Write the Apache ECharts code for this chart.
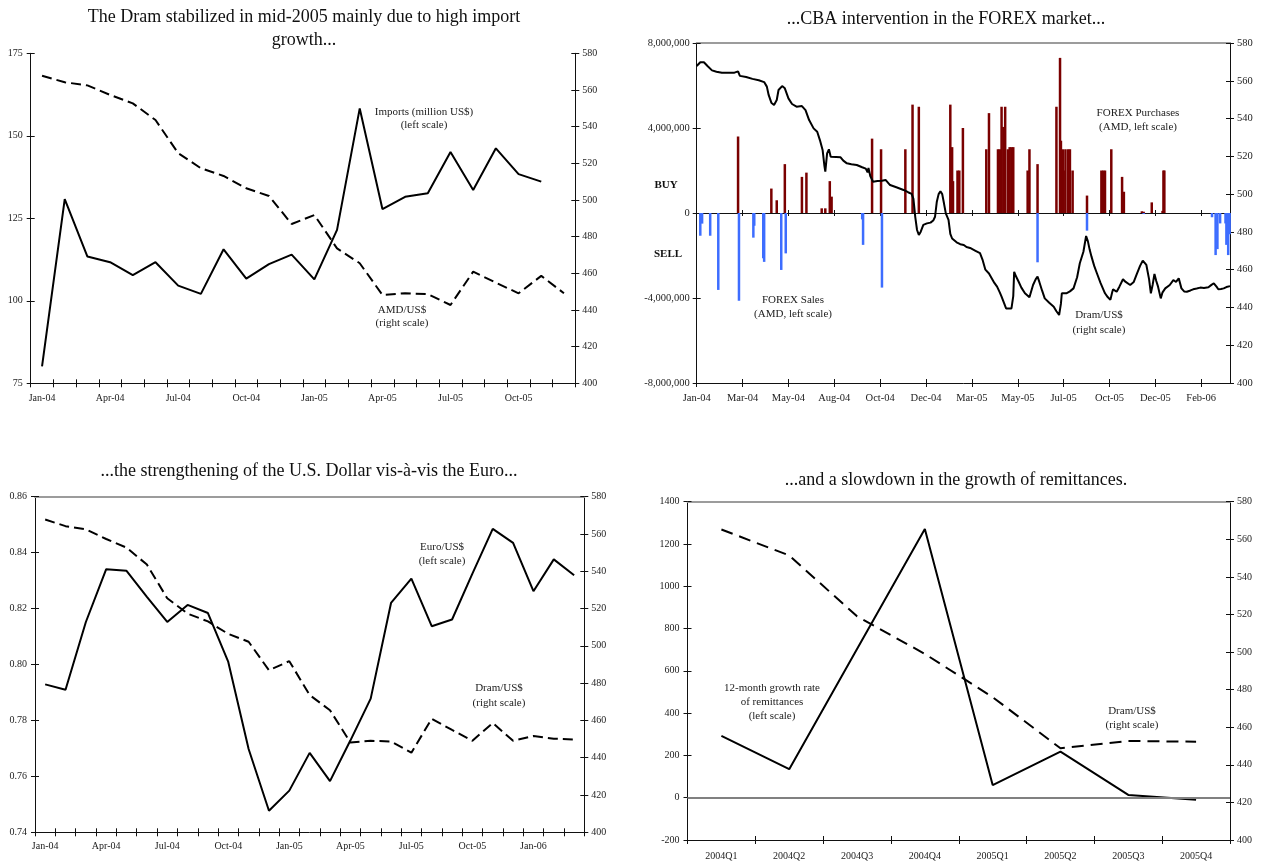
<!DOCTYPE html>
<html>
<head>
<meta charset="utf-8">
<script src="https://cdn.jsdelivr.net/npm/echarts@6/dist/echarts.min.js"></script>
<style>
  html, body { margin: 0; padding: 0; background: #ffffff; }
  #chart { width: 1263px; height: 863px; }
</style>
</head>
<body>
<div id="chart"></div>
<script>
// ---------- Data ----------
const monthLabels = ['Jan-04','Feb-04','Mar-04','Apr-04','May-04','Jun-04','Jul-04','Aug-04','Sep-04','Oct-04','Nov-04','Dec-04',
  'Jan-05','Feb-05','Mar-05','Apr-05','May-05','Jun-05','Jul-05','Aug-05','Sep-05','Oct-05','Nov-05','Dec-05',
  'Jan-06','Feb-06','Mar-06'];

// Monthly imports, million US$ (Jan-04 .. Nov-05)
const imports = [80.1,130.8,113.4,111.7,107.8,111.7,104.6,102.1,115.6,106.7,111.1,114.0,
  106.5,121.5,158.3,127.8,131.5,132.6,145.1,133.6,146.2,138.4,136.1,null];

// Monthly average Dram per US$ (Jan-04 .. Mar-06)
const dramMonthly = [567.8,564.2,562.5,557.3,552.7,543.6,525.5,517.3,513.1,506.4,502.2,486.9,
  491.8,473.6,465.5,448.2,449.1,448.7,442.7,460.9,454.9,449.1,458.6,449.1,
  451.6,450.2,449.8];

// Euro per US$ (Jan-04 .. Mar-06)
const euroPerUsd = [0.7929,0.7910,0.8152,0.8341,0.8335,0.8242,0.8152,0.8213,0.8184,0.8009,0.7698,0.7477,
  0.7549,0.7684,0.7583,0.7728,0.7878,0.8220,0.8307,0.8137,0.8161,0.8325,0.8485,0.8435,
  0.8262,0.8376,0.8319];

// Quarterly remittance growth and Dram rate
const quarters = ['2004Q1','2004Q2','2004Q3','2004Q4','2005Q1','2005Q2','2005Q3','2005Q4'];
const remittanceGrowth = [292,135,703,1271,60,218,13,-10];
const dramQuarterly = [565.2,551.4,519.0,499.0,476.0,448.8,452.7,452.3];

// Daily FOREX market (x = business-day number counted from 1 Jan 2004)
const forexTickLabels = ['Jan-04','Mar-04','May-04','Aug-04','Oct-04','Dec-04','Mar-05','May-05','Jul-05','Oct-05','Dec-05','Feb-06'];
const forexPurchases = [
  [46,3600000],[83,1150000],[89,600000],[98,2300000],[117,1700000],[122,1900000],[139,220000],[143,220000],
  [148,1500000],[150,770000],[195,3500000],[205,3000000],[232,3000000],[240,5100000],[247,5000000],
  [282,5100000],[284,3100000],[285,1500000],[290,2000000],[292,2000000],[296,4000000],
  [322,3000000],[325,4700000],[335,3000000],[337,3000000],[339,5000000],[341,4050000],[343,5000000],
  [346,3000000],[348,3100000],[350,3100000],[352,3100000],[368,2000000],[370,3000000],[379,2300000],
  [400,5000000],[404,7300000],[405,3400000],[407,3000000],[408,2000000],[410,3000000],[413,3000000],
  [415,3000000],[418,2000000],[434,820000],[450,2000000],[452,2000000],[454,2000000],[461,3000000],
  [473,1700000],[475,1000000],[495,80000],[497,60000],[506,500000],[518,100000],[519,2000000],[520,2000000]
];
const forexSales = [
  [4,-1070000],[6,-500000],[15,-1070000],[24,-3620000],[47,-4130000],[63,-1160000],[64,-600000],
  [74,-2130000],[75,-2300000],[94,-2680000],[99,-1900000],[184,-300000],[185,-1500000],[206,-3510000],
  [379,-2320000],[434,-830000],[497,-50000],[573,-200000],[577,-1980000],[579,-1700000],[582,-490000],
  [588,-490000],[589,-1500000],[591,-1980000],[593,-1000000]
];
const dramDaily = [
  [0,567.8],[4,569.8],[8,569.8],[12,567.8],[17,565.5],[22,564.8],[28,564.2],[35,564.3],[42,564.3],[46,565.0],
  [48,562.6],[55,562.0],[62,561.0],[69,560.3],[75,559.3],[78,556.9],[80,552.5],[83,548.4],[86,547.2],[89,549.8],
  [91,555.1],[95,557.2],[98,556.0],[102,550.7],[106,547.7],[111,546.3],[117,546.6],[121,544.5],[125,539.2],
  [130,534.8],[134,533.0],[137,528.6],[140,523.4],[142,515.0],[143,511.9],[145,521.6],[147,523.7],[149,519.8],
  [155,519.7],[160,519.5],[163,517.7],[167,516.3],[172,515.8],[178,515.4],[184,514.2],[188,513.5],[190,511.5],
  [191,513.8],[193,509.6],[196,506.6],[201,506.9],[206,507.1],[210,507.5],[215,504.8],[222,503.6],[230,502.2],
  [235,501.0],[239,500.1],[241,497.5],[243,488.0],[245,481.0],[247,478.4],[249,480.0],[252,483.7],[256,484.5],
  [260,484.9],[263,486.0],[265,488.0],[267,496.0],[269,500.0],[271,501.5],[273,500.0],[275,495.0],[277,489.8],
  [280,486.3],[282,479.0],[284,476.5],[286,477.0],[289,474.5],[293,473.5],[297,473.1],[300,472.0],[304,471.5],
  [310,470.0],[315,468.7],[318,465.0],[321,460.0],[325,458.0],[328,455.5],[331,453.0],[334,451.0],[337,448.0],
  [339,445.7],[342,442.0],[344,439.5],[350,439.5],[352,446.0],[353,458.9],[355,456.5],[358,453.6],[361,450.5],
  [365,447.5],[370,445.4],[374,451.9],[377,455.0],[379,456.3],[381,453.5],[384,449.0],[387,444.8],[392,442.5],
  [397,440.4],[400,438.0],[403,436.0],[405,442.0],[406,447.5],[411,447.5],[415,448.5],[419,450.1],[423,456.0],
  [426,463.4],[430,469.5],[433,477.8],[435,475.0],[437,470.5],[439,466.9],[442,462.0],[445,458.1],[449,453.0],
  [454,447.5],[457,445.5],[460,444.0],[462,448.0],[463,449.6],[467,448.3],[470,451.0],[474,454.9],[477,453.5],
  [482,451.9],[486,453.5],[489,457.2],[493,462.0],[496,464.8],[500,462.5],[503,455.0],[505,447.5],[507,452.0],
  [509,457.7],[511,454.0],[513,451.0],[516,444.8],[518,448.0],[521,450.1],[526,451.9],[530,454.5],[533,453.5],
  [536,455.4],[539,450.1],[542,448.5],[545,448.3],[549,449.0],[552,449.6],[556,450.0],[560,450.5],[564,450.3],
  [569,450.7],[572,451.8],[575,452.8],[578,451.0],[580,449.6],[583,449.8],[586,450.1],[589,450.8],[593,451.3]
];

// ---------- Styling helpers ----------
const INK = '#111111';
const LABEL = '#222222';
const FONT = '"Liberation Serif","Times New Roman",Times,serif';

const xAxis = [];
const yAxis = [];

function labelStyle(extra) {
  return Object.assign({ show: true, color: LABEL, fontFamily: FONT, fontSize: 10 }, extra || {});
}
const plain = v => String(v);

// Each visible axis gets a twin carrying inward ticks, so tick marks cross the axis line.
function axisPair(list, spec) {
  const { tickLen = 4, tickInterval, ...base } = spec;
  const tick = (inside) => {
    const t = { show: true, inside: inside, length: tickLen, alignWithLabel: false, lineStyle: { color: INK, width: 1 } };
    if (tickInterval !== undefined) t.interval = tickInterval;
    return t;
  };
  const line = Object.assign({ show: true, onZero: false, lineStyle: { color: INK, width: 1 } }, base.axisLine || {});
  const main = Object.assign({}, base, { axisLine: line, axisTick: tick(false), splitLine: { show: false }, silent: true });
  const twin = Object.assign({}, base, {
    axisLine: Object.assign({}, line, { show: false }),
    axisLabel: { show: false },
    axisTick: tick(true),
    splitLine: { show: false },
    silent: true
  });
  const idx = list.length;
  list.push(main, twin);
  return idx;
}

function topRule(gridIndex) {
  xAxis.push({
    type: 'value', gridIndex: gridIndex, position: 'top', min: 0, max: 1,
    axisLine: { show: true, onZero: false, lineStyle: { color: '#9c9c9c', width: 2 } },
    axisTick: { show: false }, axisLabel: { show: false }, splitLine: { show: false }, silent: true
  });
}

const rightScale = (grid, size) => ({
  type: 'value', gridIndex: grid, position: 'right', min: 400, max: 580, interval: 20,
  axisLabel: labelStyle({ margin: 7, fontSize: size || 10, formatter: plain })
});

const solid = { type: 'line', symbol: 'none', showSymbol: false, silent: true, connectNulls: false,
  lineStyle: { color: '#000', width: 2, type: 'solid' } };
const dashed = (dash) => ({ type: 'line', symbol: 'none', showSymbol: false, silent: true,
  lineStyle: { color: '#000', width: 2, type: dash } });

// ---------- Grids ----------
const grid = [
  { left: 30.7,  top: 53.3,  width: 544.6, height: 330 },
  { left: 696.7, top: 43,    width: 533.3, height: 340 },
  { left: 35,    top: 496.7, width: 549.3, height: 335.6 },
  { left: 687.5, top: 501.7, width: 542.5, height: 338.3 }
].map(g => Object.assign({ show: false, containLabel: false, outerBoundsMode: 'none' }, g));

// Panel 1: imports and Dram
const x1 = axisPair(xAxis, { type: 'category', gridIndex: 0, position: 'bottom', boundaryGap: true,
  data: monthLabels.slice(0, 24), tickInterval: 0, axisLabel: labelStyle({ interval: 2, margin: 10 }) });
const y1L = axisPair(yAxis, { type: 'value', gridIndex: 0, position: 'left', min: 75, max: 175, interval: 25,
  axisLabel: labelStyle({ margin: 8, formatter: plain }) });
const y1R = axisPair(yAxis, rightScale(0));

// Panel 2: FOREX interventions and daily Dram
const x2 = axisPair(xAxis, { type: 'value', gridIndex: 1, position: 'bottom', min: 0, max: 593, interval: 51,
  axisLabel: labelStyle({ margin: 10, fontSize: 10.5, showMaxLabel: false,
    formatter: v => (v % 51 === 0 ? (forexTickLabels[v / 51] || '') : '') }) });
const y2L = axisPair(yAxis, { type: 'value', gridIndex: 1, position: 'left', min: -8000000, max: 8000000, interval: 4000000,
  axisLabel: labelStyle({ margin: 7, fontSize: 10.5, formatter: v => Number(v).toLocaleString('en-US') }) });
const y2R = axisPair(yAxis, rightScale(1, 10.5));
axisPair(xAxis, { type: 'value', gridIndex: 1, position: 'bottom', min: 0, max: 593, interval: 51, tickLen: 3,
  axisLine: { onZero: true, onZeroAxisIndex: y2L }, axisLabel: { show: false } });
topRule(1);

// Panel 3: Euro and Dram
const x3 = axisPair(xAxis, { type: 'category', gridIndex: 2, position: 'bottom', boundaryGap: true,
  data: monthLabels, tickInterval: 0, axisLabel: labelStyle({ interval: 2, margin: 9 }) });
const y3L = axisPair(yAxis, { type: 'value', gridIndex: 2, position: 'left', min: 0.74, max: 0.86, interval: 0.02,
  axisLabel: labelStyle({ margin: 8, formatter: v => Number(v).toFixed(2) }) });
const y3R = axisPair(yAxis, rightScale(2));
topRule(2);

// Panel 4: remittances and Dram
const x4 = axisPair(xAxis, { type: 'category', gridIndex: 3, position: 'bottom', boundaryGap: true,
  data: quarters, tickInterval: 0, axisLabel: labelStyle({ interval: 0, margin: 11 }) });
const y4L = axisPair(yAxis, { type: 'value', gridIndex: 3, position: 'left', min: -200, max: 1400, interval: 200,
  axisLabel: labelStyle({ margin: 8, formatter: plain }) });
const y4R = axisPair(yAxis, rightScale(3));
topRule(3);

const series = [
  Object.assign({}, solid, { xAxisIndex: x1, yAxisIndex: y1L, data: imports }),
  Object.assign({}, dashed([10, 5]), { xAxisIndex: x1, yAxisIndex: y1R, data: dramMonthly.slice(0, 24) }),

  { type: 'bar', xAxisIndex: x2, yAxisIndex: y2L, data: forexPurchases, barWidth: 2.5, barGap: '-100%', silent: true,
    itemStyle: { color: '#7a0000' }, z: 2 },
  { type: 'bar', xAxisIndex: x2, yAxisIndex: y2L, data: forexSales, barWidth: 2.5, barGap: '-100%', silent: true,
    itemStyle: { color: '#3d6dff' }, z: 2 },
  Object.assign({}, solid, { xAxisIndex: x2, yAxisIndex: y2R, data: dramDaily, z: 3 }),

  Object.assign({}, solid, { xAxisIndex: x3, yAxisIndex: y3L, data: euroPerUsd }),
  Object.assign({}, dashed([10, 5]), { xAxisIndex: x3, yAxisIndex: y3R, data: dramMonthly }),

  Object.assign({}, solid, { xAxisIndex: x4, yAxisIndex: y4L, data: remittanceGrowth,
    markLine: { silent: true, symbol: 'none', label: { show: false },
      lineStyle: { color: '#808080', width: 2, type: 'solid' }, data: [{ yAxis: 0 }] } }),
  Object.assign({}, dashed([12, 7]), { xAxisIndex: x4, yAxisIndex: y4R, data: dramQuarterly })
];

// ---------- Titles and notes ----------
function note(text, x, y, opts) {
  return {
    type: 'text', x: x, y: y, silent: true,
    style: Object.assign({ text: text, fill: '#222', font: '11px ' + FONT, align: 'center', verticalAlign: 'middle' },
      (opts && opts.style) || {})
  };
}
function heading(text, x, y) {
  return note(text, x, y, { style: { fill: '#111', font: '18px ' + FONT } });
}

const graphic = [
  heading('The Dram stabilized in mid-2005 mainly due to high import', 304, 17),
  heading('growth...', 304, 40),
  note('Imports (million US$)', 424, 112),
  note('(left scale)', 424, 125),
  note('AMD/US$', 402, 310),
  note('(right scale)', 402, 323),

  heading('...CBA intervention in the FOREX market...', 946, 19),
  note('FOREX Purchases', 1138, 113),
  note('(AMD, left scale)', 1138, 127.5),
  note('FOREX Sales', 793, 300.5),
  note('(AMD, left scale)', 793, 314.5),
  note('Dram/US$', 1099, 315.5),
  note('(right scale)', 1099, 330),
  note('BUY', 666, 185.5, { style: { font: 'bold 11px ' + FONT, fill: '#111' } }),
  note('SELL', 668, 254, { style: { font: 'bold 11px ' + FONT, fill: '#111' } }),

  heading('...the strengthening of the U.S. Dollar vis-\u00e0-vis the Euro...', 309, 471),
  note('Euro/US$', 442, 547.5),
  note('(left scale)', 442, 561.5),
  note('Dram/US$', 499, 688.5),
  note('(right scale)', 499, 703),

  heading('...and a slowdown in the growth of remittances.', 956, 480),
  note('12-month growth rate', 772, 688),
  note('of remittances', 772, 702),
  note('(left scale)', 772, 716),
  note('Dram/US$', 1132, 711.5),
  note('(right scale)', 1132, 725.5)
];

const chart = echarts.init(document.getElementById('chart'), null, { renderer: 'canvas' });
chart.setOption({
  animation: false,
  backgroundColor: '#ffffff',
  textStyle: { fontFamily: FONT },
  tooltip: { show: false },
  grid: grid,
  xAxis: xAxis,
  yAxis: yAxis,
  series: series,
  graphic: graphic
});
</script>
</body>
</html>
